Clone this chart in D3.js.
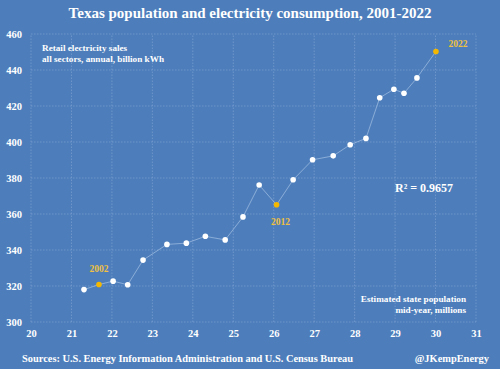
<!DOCTYPE html>
<html>
<head>
<meta charset="utf-8">
<script src="https://cdn.jsdelivr.net/npm/d3@7"></script>
<style>
  body { margin: 0; background: #4d7ebb; }
  svg text { font-family: "Liberation Serif", "DejaVu Serif", serif; font-weight: bold; }
</style>
</head>
<body>
<svg id="chart" width="500" height="369"></svg>
<script>
// Texas: population (millions) vs retail electricity sales (billion kWh)
var years = [2001, 2002, 2003, 2004, 2005, 2006, 2007, 2008, 2009, 2010, 2011,
             2012, 2013, 2014, 2015, 2016, 2017, 2018, 2019, 2020, 2021, 2022];
var population = [21.31, 21.68, 22.03, 22.39, 22.77, 23.36, 23.84, 24.31, 24.80, 25.24, 25.64,
                  26.07, 26.48, 26.96, 27.47, 27.89, 28.28, 28.62, 28.97, 29.22, 29.54, 30.01];
var sales = [318.0, 320.8, 322.7, 320.7, 334.4, 343.1, 343.8, 347.6, 345.6, 358.4, 376.1,
             365.1, 379.0, 390.1, 392.3, 398.5, 402.0, 424.6, 429.3, 427.1, 435.6, 450.3];
var highlightYears = [2002, 2012, 2022];
var xTicks = d3.range(20, 32, 1);
var yTicks = d3.range(300, 480, 20);

var data = years.map((y, i) => ({year: y, pop: population[i], kwh: sales[i]}));

var svg = d3.select("#chart"),
    margin = {top: 34, right: 24, bottom: 47, left: 31},
    width = +svg.attr("width"),
    height = +svg.attr("height");

var x = d3.scaleLinear().domain([20, 31]).range([margin.left, width - margin.right]);
var y = d3.scaleLinear().domain([300, 460]).range([height - margin.bottom, margin.top]);

var gridColor = "#8aaad8";
var yellow = "#f5b800";

// title
svg.append("text")
  .attr("x", 250).attr("y", 18)
  .attr("text-anchor", "middle")
  .attr("fill", "#fff")
  .attr("font-size", 15)
  .text("Texas population and electricity consumption, 2001-2022");

// grid
var grid = svg.append("g").attr("class", "grid");
grid.selectAll(".vg").data(xTicks).enter().append("line")
  .attr("x1", d => x(d)).attr("x2", d => x(d))
  .attr("y1", y(300)).attr("y2", y(460))
  .attr("stroke", gridColor).attr("stroke-width", 0.8)
  .attr("stroke-dasharray", "1.5,1.5").attr("opacity", 0.7);
grid.selectAll(".hg").data(yTicks).enter().append("line")
  .attr("x1", x(20)).attr("x2", x(31))
  .attr("y1", d => y(d)).attr("y2", d => y(d))
  .attr("stroke", gridColor).attr("stroke-width", 0.8)
  .attr("stroke-dasharray", "1.5,1.5").attr("opacity", 0.7);

// axes (labels only)
var yAxis = svg.append("g")
  .attr("transform", "translate(" + (margin.left - 9) + ",0)")
  .call(d3.axisLeft(y).tickValues(yTicks).tickSize(0).tickPadding(0));
yAxis.select(".domain").remove();
yAxis.selectAll("text").attr("fill", "#fff").attr("font-size", 10.5);

var xAxis = svg.append("g")
  .attr("transform", "translate(0," + (height - margin.bottom + 8) + ")")
  .call(d3.axisBottom(x).tickValues(xTicks).tickSize(0).tickPadding(0));
xAxis.select(".domain").remove();
xAxis.selectAll("text").attr("fill", "#fff").attr("font-size", 10.5);

// connecting line
var line = d3.line().x(d => x(d.pop)).y(d => y(d.kwh));
svg.append("path")
  .datum(data)
  .attr("d", line)
  .attr("fill", "none")
  .attr("stroke", "#a9c3e6")
  .attr("stroke-width", 0.9)
  .attr("opacity", 0.75);

// points
svg.selectAll(".pt").data(data).enter().append("circle")
  .attr("class", "pt")
  .attr("cx", d => x(d.pop))
  .attr("cy", d => y(d.kwh))
  .attr("r", 2.8)
  .attr("fill", d => highlightYears.includes(d.year) ? yellow : "#fff");

// year labels
var labelOffsets = {2002: [0, -13], 2012: [4, 20], 2022: [22, -4]};
svg.selectAll(".yl").data(data.filter(d => highlightYears.includes(d.year))).enter().append("text")
  .attr("x", d => x(d.pop) + labelOffsets[d.year][0])
  .attr("y", d => y(d.kwh) + labelOffsets[d.year][1])
  .attr("text-anchor", "middle")
  .attr("fill", "#f0c040")
  .attr("font-size", 9.5)
  .text(d => d.year);

// annotations
var white = "#fff";
svg.append("text").attr("x", 42).attr("y", 51).attr("fill", white).attr("font-size", 9.2)
  .text("Retail electricity sales");
svg.append("text").attr("x", 42).attr("y", 62).attr("fill", white).attr("font-size", 9.2)
  .text("all sectors, annual, billion kWh");
svg.append("text").attr("x", 466).attr("y", 302).attr("text-anchor", "end").attr("fill", white).attr("font-size", 9.2)
  .text("Estimated state population");
svg.append("text").attr("x", 466).attr("y", 313).attr("text-anchor", "end").attr("fill", white).attr("font-size", 9.2)
  .text("mid-year, millions");
svg.append("text").attr("x", 395).attr("y", 192).attr("fill", white).attr("font-size", 12)
  .text("R² = 0.9657");

// footer
svg.append("text").attr("x", 22).attr("y", 362).attr("fill", white).attr("font-size", 10.4)
  .text("Sources: U.S. Energy Information Administration and U.S. Census Bureau");
svg.append("text").attr("x", 489).attr("y", 362).attr("text-anchor", "end").attr("fill", white).attr("font-size", 10.4)
  .text("@JKempEnergy");
</script>
</body>
</html>
